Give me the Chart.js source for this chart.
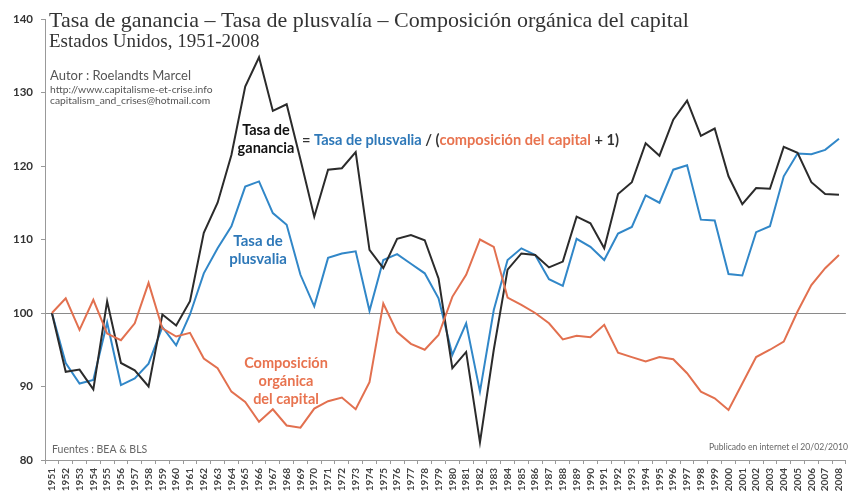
<!DOCTYPE html>
<html>
<head>
<meta charset="utf-8">
<script src="https://cdn.jsdelivr.net/npm/chart.js@4"></script>
<style>
  html, body { margin: 0; padding: 0; background: #fff; }
  #wrap { width: 855px; height: 491px; position: relative; }
</style>
</head>
<body>
<div id="wrap"><canvas id="tasa-chart"></canvas></div>
<script>
// años 1951-2008
const years = [];
for (let y = 1951; y <= 2008; y++) years.push(String(y));

// índices base 1951 = 100
const ganancia = [100, 92.0, 92.3, 89.6, 101.6, 93.2, 92.2, 90.0, 99.8, 98.3,
  101.6, 110.9, 115.0, 121.5, 130.8, 134.8, 127.5, 128.4, 120.9, 113.1,
  119.5, 119.7, 121.9, 108.6, 106.1, 110.1, 110.6, 109.9, 104.7, 92.5,
  94.7, 82.4, 95.0, 105.9, 108.1, 107.9, 106.2, 107.0, 113.1, 112.2,
  108.8, 116.2, 117.8, 123.1, 121.4, 126.3, 128.9, 124.1, 125.1, 118.6,
  114.8, 117.0, 116.9, 122.6, 121.8, 117.8, 116.2, 116.1];

const plusvalia = [100, 93.2, 90.4, 90.9, 98.7, 90.2, 91.1, 93.1, 98.1, 95.6,
  99.8, 105.4, 108.8, 111.8, 117.2, 117.9, 113.6, 112.0, 105.2, 100.9,
  107.5, 108.1, 108.4, 100.3, 107.2, 108.0, 106.7, 105.4, 102.0, 94.3,
  98.6, 89.3, 100.4, 107.2, 108.8, 107.9, 104.6, 103.7, 110.1, 109.0,
  107.2, 110.8, 111.7, 116.0, 115.0, 119.5, 120.1, 112.7, 112.6, 105.3,
  105.1, 111.0, 111.8, 118.6, 121.7, 121.6, 122.2, 123.7];

const composicion = [100, 102.0, 97.7, 101.8, 97.2, 96.3, 98.6, 104.1, 97.9, 96.8,
  97.3, 93.8, 92.5, 89.3, 87.9, 85.2, 86.9, 84.7, 84.4, 87.0,
  88.0, 88.5, 86.9, 90.6, 101.3, 97.4, 95.8, 95.0, 97.0, 102.2,
  105.2, 110.0, 109.0, 102.1, 101.1, 100.0, 98.6, 96.4, 96.9, 96.7,
  98.4, 94.6, 94.0, 93.4, 94.0, 93.7, 91.8, 89.3, 88.4, 86.8,
  90.4, 94.0, 95.0, 96.1, 100.2, 103.8, 106.1, 107.9];

const yTicks = [80, 90, 100, 110, 120, 130, 140];

const NEGRO = '#2b2b2b';
const AZUL = '#3187c8';
const NARANJA = '#e2704f';
const AZUL_TXT = '#2e78b8';
const NARANJA_TXT = '#e8734f';

function txt(ctx, s, x, y, font, color, align) {
  ctx.font = font;
  ctx.fillStyle = color;
  ctx.textAlign = align || 'left';
  ctx.textBaseline = 'middle';
  ctx.fillText(s, x, y);
}

// textos sobre el gráfico
const textos = {
  id: 'textos',
  afterDraw(chart) {
    const ctx = chart.ctx;
    ctx.save();
    txt(ctx, 'Tasa de ganancia \u2013 Tasa de plusvalía \u2013 Composición orgánica del capital',
      49, 21, '22px "Liberation Serif"', '#333');
    txt(ctx, 'Estados Unidos, 1951-2008', 49, 42, '19px "Liberation Serif"', '#333');

    txt(ctx, 'Autor : Roelandts Marcel', 50, 76, '13px Lato', '#555');
    txt(ctx, 'http://www.capitalisme-et-crise.info', 50, 90, '10.3px Lato', '#555');
    txt(ctx, 'capitalism_and_crises@hotmail.com', 50, 101, '10.3px Lato', '#555');

    // etiquetas de las series
    txt(ctx, 'Tasa de', 266, 130, 'bold 14.5px Lato', '#111', 'center');
    txt(ctx, 'ganancia', 266, 148, 'bold 14.5px Lato', '#111', 'center');

    txt(ctx, 'Tasa de', 258, 241, 'bold 15px Lato', AZUL_TXT, 'center');
    txt(ctx, 'plusvalia', 258, 259, 'bold 15px Lato', AZUL_TXT, 'center');

    txt(ctx, 'Composición', 286, 363, 'bold 14.5px Lato', NARANJA_TXT, 'center');
    txt(ctx, 'orgánica', 286, 381, 'bold 14.5px Lato', NARANJA_TXT, 'center');
    txt(ctx, 'del capital', 286, 399, 'bold 14.5px Lato', NARANJA_TXT, 'center');

    // fórmula
    let x = 302;
    const f = 'bold 14.6px Lato';
    const partes = [['= ', '#333'], ['Tasa de plusvalia', AZUL_TXT], [' / (', '#333'],
      ['composición del capital', NARANJA_TXT], [' + 1)', '#333']];
    partes.forEach(p => {
      txt(ctx, p[0], x, 140, f, p[1]);
      x += ctx.measureText(p[0]).width;
    });

    txt(ctx, 'Fuentes : BEA & BLS', 52, 450, '10.5px Lato', '#666');
    txt(ctx, 'Publicado en internet el 20/02/2010', 848, 447, '8.6px Lato', '#666', 'right');
    ctx.restore();
  }
};

new Chart(document.getElementById('tasa-chart'), {
  type: 'line',
  data: {
    labels: years,
    datasets: [
      { label: 'Composición orgánica del capital', data: composicion, borderColor: NARANJA, borderWidth: 2 },
      { label: 'Tasa de ganancia', data: ganancia, borderColor: NEGRO, borderWidth: 2 },
      { label: 'Tasa de plusvalia', data: plusvalia, borderColor: AZUL, borderWidth: 2 }
    ]
  },
  options: {
    responsive: true,
    maintainAspectRatio: false,
    animation: false,
    elements: { point: { radius: 0 }, line: { tension: 0 } },
    layout: { padding: { top: 19, right: 3, left: 0, bottom: 0 } },
    plugins: { legend: { display: false }, tooltip: { enabled: false } },
    scales: {
      x: {
        type: 'category',
        offset: true,
        border: { color: '#999', width: 1 },
        grid: { drawOnChartArea: false, color: '#999', tickLength: 4, offset: true },
        ticks: {
          minRotation: 90, maxRotation: 90, autoSkip: false,
          color: '#444', padding: 4,
          font: { family: 'Lato', size: 10, weight: 'bold' }
        },
        afterFit(scale) { scale.height = 31; }
      },
      y: {
        min: 80, max: 140,
        border: { color: '#999', width: 1 },
        afterBuildTicks(scale) { scale.ticks = yTicks.map(v => ({ value: v })); },
        grid: {
          tickLength: 4,
          tickColor: '#999',
          color: ctx => ctx.tick && ctx.tick.value === 100 ? '#8a8a8a' : 'rgba(0,0,0,0)',
          lineWidth: 1
        },
        ticks: {
          color: '#333', padding: 8,
          font: { family: 'Lato', size: 11.5, weight: 'bold' }
        },
        afterFit(scale) { scale.width = 45; }
      }
    }
  },
  plugins: [textos]
});
</script>
</body>
</html>
